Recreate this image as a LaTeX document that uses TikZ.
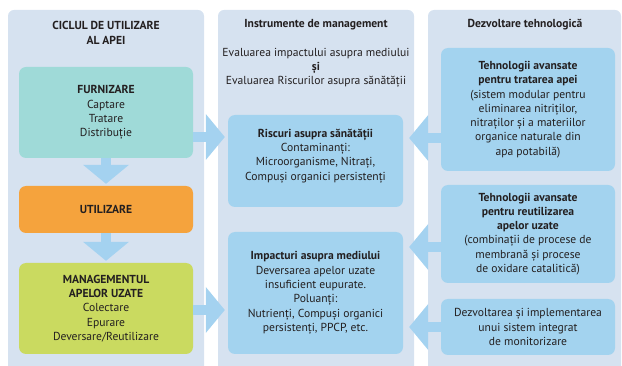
\documentclass[tikz,border=0pt]{standalone}
\usepackage{fontspec}
\setmainfont{PT Sans}
\usetikzlibrary{arrows.meta}

\definecolor{panelbg}{HTML}{D6E2F0}
\definecolor{boxblue}{HTML}{A3D3EF}
\definecolor{boxteal}{HTML}{9FDAD8}
\definecolor{boxorange}{HTML}{F5A33D}
\definecolor{boxgreen}{HTML}{CADA60}
\definecolor{arrowblue}{HTML}{A4D2F0}
\definecolor{textdark}{HTML}{231F20}

\begin{document}
\begin{tikzpicture}[x=1pt,y=-1pt,text=textdark,font=\fontsize{11.6}{14.3}\selectfont,
  panel/.style={fill=panelbg,rounded corners=6pt},
  box/.style={rounded corners=7pt,align=center,inner sep=0pt,minimum width=174pt},
  block arrow/.style={draw=arrowblue,line width=10pt,-{Triangle[width=46pt,length=19pt,line width=0pt]}}]
\useasboundingbox (0,0) rectangle (622,366);

% Panels
\fill[panel] (8,10) rectangle (204,380);
\fill[panel] (218,10) rectangle (414,380);
\fill[panel] (428,10) rectangle (621,380);

\node[align=center,font=\fontsize{11.6}{14.3}\selectfont\bfseries] (ciclultitle) at (106,33) {CICLUL DE UTILIZARE\\AL APEI};
\node[font=\fontsize{11.6}{14.3}\selectfont\bfseries] (instrtitle) at (316,25) {Instrumente de management};
\node[align=center] (evaluarea) at (316,68) {Evaluarea impactului asupra mediului\\\textbf{și}\\Evaluarea Riscurilor asupra sănătății};
\node[font=\fontsize{11.6}{14.3}\selectfont\bfseries] (dezvtitle) at (525,25) {Dezvoltare tehnologică};

% Ciclul de utilizare
\node[box,fill=boxteal,minimum height=91pt] (furnizare) at (106,112.5) {\textbf{FURNIZARE}\\Captare\\Tratare\\Distribuție};
\node[box,fill=boxorange,minimum height=47pt] (utilizare) at (106,209.5) {\textbf{UTILIZARE}};
\node[box,fill=boxgreen,minimum height=91pt] (managementul) at (106,308.5) {\textbf{MANAGEMENTUL}\\\textbf{APELOR UZATE}\\Colectare\\Epurare\\Deversare/Reutilizare};

% Instrumente
\node[box,fill=boxblue,minimum width=175pt,minimum height=92pt] (riscuri) at (315.5,161) {};
\node[align=center] (riscuritext) at (315.5,156) {\textbf{Riscuri asupra sănătății}\\Contaminanți:\\Microorganisme, Nitrați,\\Compuși organici persistenți};
\node[box,fill=boxblue,minimum width=175pt,minimum height=122pt] (impacturi) at (315.5,293) {\textbf{Impacturi asupra mediului}\\Deversarea apelor uzate\\insuficient eupurate.\\Poluanți:\\Nutrienți, Compuși organici\\persistenți, PPCP, etc.};

% Dezvoltare
\node[box,fill=boxblue,minimum height=123pt] (tehtratare) at (528,109.5) {\textbf{Tehnologii avansate}\\\textbf{pentru tratarea apei}\\(sistem modular pentru\\eliminarea nitriților,\\nitraților și a materiilor\\organice naturale din\\apa potabilă)};
\node[box,fill=boxblue,minimum height=98pt] (tehreutil) at (528,234) {\textbf{Tehnologii avansate}\\\textbf{pentru reutilizarea}\\\textbf{apelor uzate}\\(combinații de procese de\\membrană și procese\\de oxidare catalitică)};
\node[box,fill=boxblue,minimum height=56pt] (monitorizare) at (528,327) {Dezvoltarea și implementarea\\unui sistem integrat\\de monitorizare};

\coordinate (leftupper) at (0,137);
\coordinate (leftlower) at (0,310);
\coordinate (rightupper) at (0,138);
\coordinate (rightmiddle) at (0,247);
\coordinate (rightlower) at (0,327);

% Arrows
\draw[block arrow,shorten >=2pt] (furnizare) -- (utilizare);
\draw[block arrow,shorten >=2pt] (utilizare) -- (managementul);
\draw[block arrow,shorten >=3pt] (furnizare.east |- leftupper) -- (riscuri.west |- leftupper);
\draw[block arrow,shorten >=3pt] (managementul.east |- leftlower) -- (impacturi.west |- leftlower);
\draw[block arrow,shorten >=6pt] (tehtratare.west |- rightupper) -- (riscuri.east |- rightupper);
\draw[block arrow,shorten >=6pt] (tehreutil.west |- rightmiddle) -- (impacturi.east |- rightmiddle);
\draw[block arrow,shorten >=6pt] (monitorizare.west |- rightlower) -- (impacturi.east |- rightlower);

\end{tikzpicture}
\end{document}
